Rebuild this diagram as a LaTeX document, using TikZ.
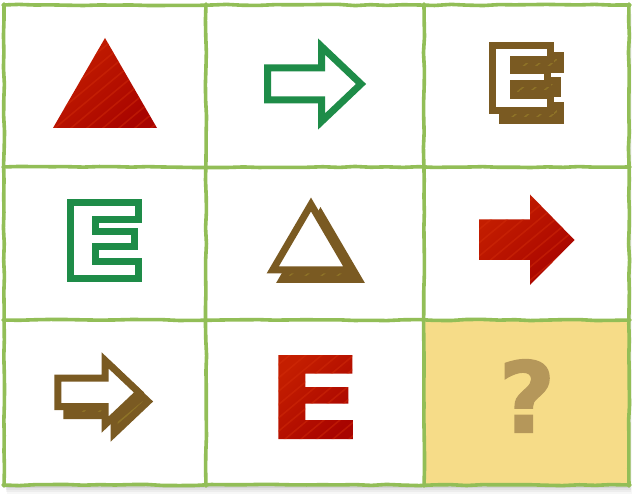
\documentclass[tikz,border=0pt]{standalone}
\usepackage{fontspec}
\newfontfamily\qfont{DejaVu Sans}[BoldFeatures={FakeBold=1.5}]
\usetikzlibrary{decorations.pathmorphing}
\definecolor{gridgreen}{HTML}{92BE57}
\definecolor{redA}{HTML}{A80400}
\definecolor{redB}{HTML}{D42E0A}
\definecolor{redC}{HTML}{C41E00}
\definecolor{greenA}{HTML}{1E8C48}
\definecolor{brownA}{HTML}{7A5A22}
\definecolor{brownB}{HTML}{A8922E}
\definecolor{qyellow}{HTML}{F6DC88}
\definecolor{qbrown}{HTML}{B5975A}

\begin{document}
\begin{tikzpicture}[x=1pt,y=-1pt,
  sketch/.style={draw=gridgreen,line width=3.6pt,line cap=round,line join=round,
    decorate,decoration={random steps,segment length=16pt,amplitude=.6pt}},
  hatch/.style={path picture={\foreach \k in {-140,-124,...,140}
    \draw[#1,line width=1.5pt,opacity=.45] ([xshift=\k pt]path picture bounding box.center)
      ++(-60pt,-50pt) -- ++(120pt,100pt);}},
  redfill/.style={shade,shading=axis,left color=redC,right color=redA,shading angle=45,
    hatch=redB},
  outline/.style={draw=#1,line width=7pt,fill=white},
  backing/.style={draw=#1,line width=7pt,fill=#1,hatch=brownB},
  pics/eglyph/.style={code={
    \path[pic actions] (0,0) -- (74,0) -- (74,18.5) -- (27,18.5) -- (27,32) -- (70,32)
      -- (70,48.5) -- (27,48.5) -- (27,65) -- (74.5,65) -- (74.5,84) -- (0,84) -- cycle;}}
]
  \pgfmathsetseed{5}
  \useasboundingbox (0,0) rectangle (635,497);
  \foreach \d / \o in {1/.08, 3/.06, 5/.05, 7/.04, 9/.03}
     \fill[black,opacity=\o] (4+\d/3,5+\d) rectangle (629+\d/3,485+\d);
  \fill[white] (4,5) rectangle (629,485);
  \fill[qyellow] (424,320) rectangle (629,485);

  \path[redfill] (105,38) -- (157,128) -- (53,128) -- cycle;
  \path[outline=greenA] (267.5,68) -- (321.5,68) -- (321.5,46.5) -- (361,84)
     -- (321.5,121.5) -- (321.5,100) -- (267.5,100) -- cycle;
  \pic[backing=brownA,scale=.78] (e1) at (502.5,55.2) {eglyph};
  \pic[outline=brownA,scale=.78] (e2) at (492.5,45.2) {eglyph};

  \pic[outline=greenA,scale=.91] (e3) at (70.8,202.5) {eglyph};
  \path[backing=brownA] (320.5,214) -- (358.7,279.3) -- (282.3,279.3) -- cycle;
  \path[outline=brownA] (311,204.5) -- (349.2,269.8) -- (272.8,269.8) -- cycle;
  \path[redfill] (479,219.5) -- (530,219.5) -- (530,194.5) -- (574.5,240)
     -- (530,285) -- (530,260) -- (479,260) -- cycle;

  \path[backing=brownA] (66.8,387) -- (114.2,387) -- (114.2,369.5) -- (148,401.5)
     -- (114.2,433.5) -- (114.2,415.5) -- (66.8,415.5) -- cycle;
  \path[outline=brownA] (57.8,378) -- (105.2,378) -- (105.2,360.5) -- (139,392.5)
     -- (105.2,424.5) -- (105.2,406.5) -- (57.8,406.5) -- cycle;
  \pic[redfill] (e4) at (278.3,355) {eglyph};
  \node[anchor=base,inner sep=0pt,text=qbrown,
        font={\qfont\bfseries\fontsize{98pt}{98pt}\selectfont}] (q) at (527,432.3) {?};

  \foreach \x in {4,206,424,629}
     \draw[sketch] (\x,4) -- (\x,486);
  \foreach \y in {5,167,320,485}
     \draw[sketch] (3,\y) -- (630,\y);
\end{tikzpicture}
\end{document}
